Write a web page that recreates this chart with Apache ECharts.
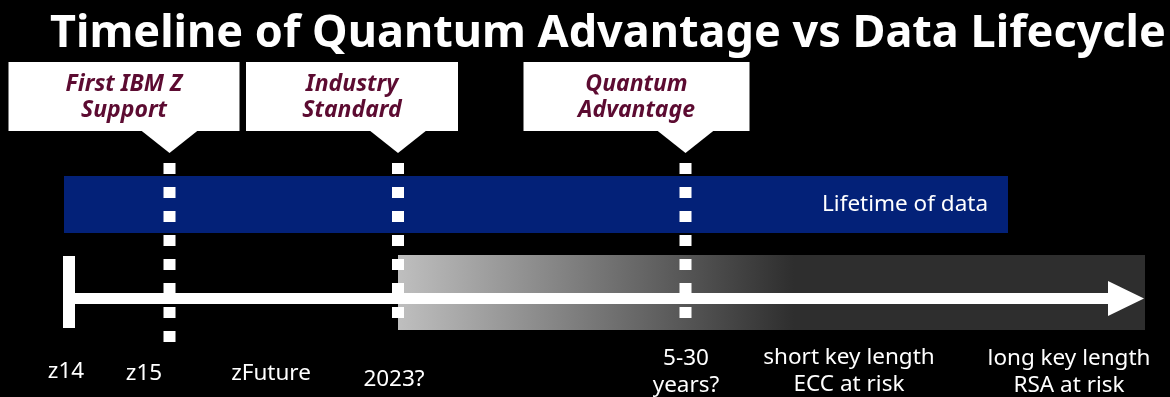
<!DOCTYPE html>
<html>
<head>
<meta charset="utf-8">
<script src="https://cdn.jsdelivr.net/npm/echarts@6/dist/echarts.min.js"></script>
<style>
  html, body { margin: 0; padding: 0; background: #000; }
  #chart { width: 1170px; height: 397px; }
</style>
</head>
<body>
<div id="chart"></div>
<script>
// ---- Timeline data (horizontal position in timeline units) ----
const milestoneNames = ['First IBM Z\nSupport', 'Industry\nStandard', 'Quantum\nAdvantage'];
const milestonePositions = [16.95, 39.8, 68.55];
const lifetimeSpan = [6.4, 100.8];
const lifetimeLabel = 'Lifetime of data';
const timelineSpan = [6.9, 114.4];
const riskSpan = [39.8, 114.5];
const tickLabels = ['z14', 'z15', 'zFuture', '2023?', '5-30\nyears?', 'short key length\nECC at risk', 'long key length\nRSA at risk'];
const tickPositions = [6.6, 14.4, 27.1, 39.4, 68.6, 84.9, 106.9];

// ---- Layout (pixels) ----
const FONT = '"Noto Sans", "Open Sans", sans-serif';
const CALLOUT = {
  top: 62, bottom: 131, tipY: 153, halfBase: 29,
  // box extents relative to the marker line
  spans: [[-161, 70], [-152, 60], [-162, 64]]
};
const MARKER = { top: 163, bottoms: [342, 318, 318] };
const BAND = { top: 176, bottom: 233 };
const RISK = { top: 255, bottom: 330 };
const TIMELINE = { barTop: 256, barBottom: 328, barW: 12, lineY: 298.5, lineW: 11, headLen: 36, headHalf: 17.5 };
const TICK_Y = [372, 374, 374, 380, 372, 371, 372];

const chart = echarts.init(document.getElementById('chart'), null, { renderer: 'canvas' });

const px = (api, v) => api.coord([v, 0])[0];

const option = {
  backgroundColor: '#000',
  animation: false,
  title: {
    text: 'Timeline of Quantum Advantage vs Data Lifecycle',
    left: 45, top: 7,
    textStyle: { color: '#fff', fontFamily: FONT, fontWeight: 'bold', fontSize: 45 }
  },
  grid: { left: 0, right: 0, top: 0, bottom: 0 },
  xAxis: { type: 'value', min: 0, max: 117, show: false },
  yAxis: { type: 'value', min: 0, max: 1, show: false },
  series: [
    // shaded risk zone behind the arrow
    {
      type: 'custom', clip: false, silent: true,
      data: [riskSpan],
      renderItem: (params, api) => {
        const x0 = px(api, api.value(0)), x1 = px(api, api.value(1));
        return {
          type: 'rect',
          shape: { x: x0, y: RISK.top, width: x1 - x0, height: RISK.bottom - RISK.top },
          style: {
            fill: new echarts.graphic.LinearGradient(0, 0, 1, 0, [
              { offset: 0, color: '#bfbfbf' },
              { offset: 0.53, color: '#2e2e2e' },
              { offset: 1, color: '#2e2e2e' }
            ])
          }
        };
      }
    },
    // lifetime of data band
    {
      type: 'custom', clip: false, silent: true,
      data: [lifetimeSpan],
      renderItem: (params, api) => {
        const x0 = px(api, api.value(0)), x1 = px(api, api.value(1));
        return {
          type: 'group',
          children: [
            { type: 'rect', shape: { x: x0, y: BAND.top, width: x1 - x0, height: BAND.bottom - BAND.top }, style: { fill: '#032178' } },
            { type: 'text', x: x1 - 20, y: (BAND.top + BAND.bottom) / 2,
              style: { text: lifetimeLabel, fill: '#fff', font: '22.5px ' + FONT, align: 'right', verticalAlign: 'middle' } }
          ]
        };
      }
    },
    // timeline arrow
    {
      type: 'custom', clip: false, silent: true,
      data: [timelineSpan],
      renderItem: (params, api) => {
        const x0 = px(api, api.value(0)), x1 = px(api, api.value(1));
        const t = TIMELINE;
        const headX = x1 - t.headLen;
        return {
          type: 'group',
          children: [
            { type: 'rect', shape: { x: x0 - t.barW / 2, y: t.barTop, width: t.barW, height: t.barBottom - t.barTop }, style: { fill: '#fff' } },
            { type: 'rect', shape: { x: x0, y: t.lineY - t.lineW / 2, width: headX - x0 + 1, height: t.lineW }, style: { fill: '#fff' } },
            { type: 'polygon', shape: { points: [[headX, t.lineY - t.headHalf], [x1, t.lineY], [headX, t.lineY + t.headHalf]] }, style: { fill: '#fff' } }
          ]
        };
      }
    },
    // milestone markers with callouts
    {
      type: 'custom', clip: false, silent: true,
      data: milestonePositions.map((p, i) => [p, i]),
      renderItem: (params, api) => {
        const i = params.dataIndex;
        const x = px(api, api.value(0));
        const span = CALLOUT.spans[i];
        const bx0 = x + span[0], bx1 = x + span[1];
        return {
          type: 'group',
          children: [
            { type: 'line', shape: { x1: x, y1: MARKER.top, x2: x, y2: MARKER.bottoms[i] },
              style: { stroke: '#fff', lineWidth: 12, lineDash: [11, 13], lineCap: 'butt' } },
            { type: 'rect', shape: { x: bx0, y: CALLOUT.top, width: bx1 - bx0, height: CALLOUT.bottom - CALLOUT.top }, style: { fill: '#fff' } },
            { type: 'polygon', shape: { points: [[x - CALLOUT.halfBase, CALLOUT.bottom - 1], [x + CALLOUT.halfBase, CALLOUT.bottom - 1], [x, CALLOUT.tipY]] }, style: { fill: '#fff' } },
            { type: 'text', x: (bx0 + bx1) / 2, y: (CALLOUT.top + CALLOUT.bottom) / 2 + 1,
              style: { text: milestoneNames[i], fill: '#5c0b31', font: 'italic bold 23px ' + FONT, align: 'center', verticalAlign: 'middle', lineHeight: 26 } }
          ]
        };
      }
    },
    // labels under the timeline
    {
      type: 'custom', clip: false, silent: true,
      data: tickPositions.map((p, i) => [p, i]),
      renderItem: (params, api) => {
        const i = params.dataIndex;
        return {
          type: 'text', x: px(api, api.value(0)), y: TICK_Y[i],
          style: { text: tickLabels[i], fill: '#fff', font: '22.5px ' + FONT, align: 'center', verticalAlign: 'middle', lineHeight: 27 }
        };
      }
    }
  ]
};

chart.setOption(option);
</script>
</body>
</html>
